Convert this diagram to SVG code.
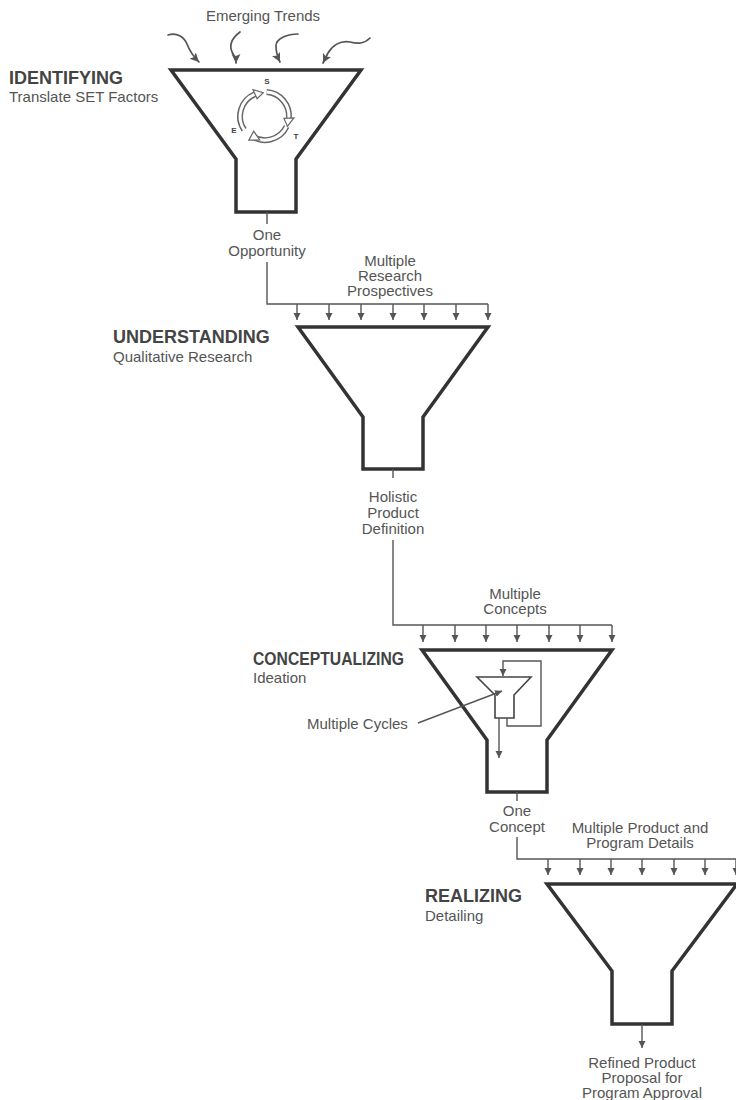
<svg xmlns="http://www.w3.org/2000/svg" width="736" height="1100" viewBox="0 0 736 1100">
  <defs>
    <style>
      .funnel { fill: none; stroke: #333; stroke-width: 3.5; stroke-linejoin: miter; }
      .conn { fill: none; stroke: #555; stroke-width: 1.4; }
      .trend { fill: none; stroke: #555; stroke-width: 1.7; stroke-linecap: round; }
      .head { font-family: "Liberation Sans", Arial, sans-serif; font-weight: bold; font-size: 18px; fill: #444; }
      .sub { font-family: "Liberation Sans", Arial, sans-serif; font-size: 15px; fill: #555; }
      .lbl { font-family: "Liberation Sans", Arial, sans-serif; font-size: 15px; fill: #555; text-anchor: middle; }
      .set { font-family: "Liberation Sans", Arial, sans-serif; font-weight: bold; font-size: 8px; fill: #444; text-anchor: middle; }
      .band-out { fill: none; stroke: #666; stroke-width: 6; }
      .band-in { fill: none; stroke: #fff; stroke-width: 3; }
      .tip { fill: #fff; stroke: #666; stroke-width: 1.2; stroke-linejoin: miter; }
    </style>
    <marker id="ah" markerWidth="8" markerHeight="8" refX="7" refY="3.5" orient="auto" markerUnits="userSpaceOnUse">
      <path d="M0,0 L7,3.5 L0,7 Z" fill="#555"/>
    </marker>
    <marker id="ahBig" markerWidth="10" markerHeight="10" refX="9" refY="4.5" orient="auto" markerUnits="userSpaceOnUse">
      <path d="M0,0 L9,4.5 L0,9 L2,4.5 Z" fill="#555"/>
    </marker>
  </defs>

  <rect width="736" height="1100" fill="#fff"/>

  <!-- Stage 1: Identifying -->
  <g id="identifying">
    <text class="lbl" x="263" y="21">Emerging Trends</text>
    <path class="trend" d="M168,35 C177,32 184,37 187,44 C190,52 194,57 199,62" marker-end="url(#ahBig)"/>
    <path class="trend" d="M240,32 C232,38 229,45 232,52 C235,57 236,60 236,63" marker-end="url(#ahBig)"/>
    <path class="trend" d="M298,34 C288,34 276,38 276,46 C276,53 278,58 280,62" marker-end="url(#ahBig)"/>
    <path class="trend" d="M370,38 C364,44 358,44 350,42 C340,40 332,46 328,53 L323,63" marker-end="url(#ahBig)"/>
    <text class="head" x="9" y="84">IDENTIFYING</text>
    <text class="sub" x="9" y="102">Translate SET Factors</text>
    <polygon class="funnel" points="171,70 361,70 296,159 296,212 236,212 236,159"/>
    <!-- S-E-T rotation -->
    <g id="set-cycle">
      <path class="band-out" d="M244.2,129.8 A24,24 0 0 1 254.9,94.2"/>
      <path class="band-in" d="M244.2,129.8 A24,24 0 0 1 254.9,94.2"/>
      <path class="band-out" d="M266.7,92.1 A24,24 0 0 1 288.9,118.1"/>
      <path class="band-in" d="M266.7,92.1 A24,24 0 0 1 288.9,118.1"/>
      <path class="band-out" d="M286.6,126.5 A24,24 0 0 1 251.2,135.7"/>
      <path class="band-in" d="M286.6,126.5 A24,24 0 0 1 251.2,135.7"/>
      <polygon class="tip" points="253,89.7 257.1,98.8 263.3,92.7"/>
      <polygon class="tip" points="283.9,118.4 293.9,117.9 287.5,126.4"/>
      <polygon class="tip" points="253.7,131.2 248.8,140.1 259.7,140.0"/>
      <text class="set" x="267" y="84">S</text>
      <text class="set" x="234" y="133">E</text>
      <text class="set" x="296" y="139">T</text>
    </g>
  </g>

  <!-- Stage 2: Understanding -->
  <g id="understanding">
    <text class="head" x="113" y="343">UNDERSTANDING</text>
    <text class="sub" x="113" y="362">Qualitative Research</text>
    <polygon class="funnel" points="298,327 488,327 423,417 423,469 363,469 363,417"/>
  </g>

  <!-- Stage 3: Conceptualizing -->
  <g id="conceptualizing">
    <text class="head" x="253" y="665" textLength="151" lengthAdjust="spacingAndGlyphs">CONCEPTUALIZING</text>
    <text class="sub" x="253" y="683">Ideation</text>
    <polygon class="funnel" points="422,650 612,650 547,740 547,792 487,792 487,740"/>
    <g id="inner-cycle">
      <polygon fill="none" stroke="#444" stroke-width="1.6" points="477,677 531,677 514,695 514,718 495,718 495,695"/>
      <path class="conn" d="M507,718 V726 H541 V661 H503 V676" marker-end="url(#ah)"/>
      <path class="conn" d="M499,718 V758" marker-end="url(#ah)"/>
    </g>
    <text class="sub" x="307" y="729">Multiple Cycles</text>
    <path class="conn" d="M418,723 L502,691" marker-end="url(#ah)"/>
  </g>

  <!-- Stage 4: Realizing -->
  <g id="realizing">
    <text class="head" x="425" y="902">REALIZING</text>
    <text class="sub" x="425" y="921">Detailing</text>
    <polygon class="funnel" points="547,884 737,884 672,971 672,1024 612,1024 612,971"/>
  </g>

  <!-- Connectors between stages -->
  <g id="connectors">
    <!-- opportunity into research -->
    <path class="conn" d="M267,212 V224"/>
    <text class="lbl" x="267" y="240">One</text>
    <text class="lbl" x="267" y="256">Opportunity</text>
    <text class="lbl" x="390" y="266">Multiple</text>
    <text class="lbl" x="390" y="281">Research</text>
    <text class="lbl" x="390" y="296">Prospectives</text>
    <path class="conn" d="M267,262 V304 H488"/>
    <g id="research-inputs">
      <path class="conn" d="M297,304 V320" marker-end="url(#ah)"/>
      <path class="conn" d="M329,304 V320" marker-end="url(#ah)"/>
      <path class="conn" d="M361,304 V320" marker-end="url(#ah)"/>
      <path class="conn" d="M393,304 V320" marker-end="url(#ah)"/>
      <path class="conn" d="M424,304 V320" marker-end="url(#ah)"/>
      <path class="conn" d="M456,304 V320" marker-end="url(#ah)"/>
      <path class="conn" d="M488,304 V320" marker-end="url(#ah)"/>
    </g>

    <!-- definition into concepts -->
    <path class="conn" d="M393,469 V478"/>
    <text class="lbl" x="393" y="502">Holistic</text>
    <text class="lbl" x="393" y="518">Product</text>
    <text class="lbl" x="393" y="534">Definition</text>
    <text class="lbl" x="515" y="599">Multiple</text>
    <text class="lbl" x="515" y="614">Concepts</text>
    <path class="conn" d="M393,540 V625 H612"/>
    <g id="concept-inputs">
      <path class="conn" d="M423,625 V642" marker-end="url(#ah)"/>
      <path class="conn" d="M455,625 V642" marker-end="url(#ah)"/>
      <path class="conn" d="M486,625 V642" marker-end="url(#ah)"/>
      <path class="conn" d="M517,625 V642" marker-end="url(#ah)"/>
      <path class="conn" d="M549,625 V642" marker-end="url(#ah)"/>
      <path class="conn" d="M580,625 V642" marker-end="url(#ah)"/>
      <path class="conn" d="M612,625 V642" marker-end="url(#ah)"/>
    </g>

    <!-- concept into detailing -->
    <path class="conn" d="M517,792 V801"/>
    <text class="lbl" x="517" y="816">One</text>
    <text class="lbl" x="517" y="832">Concept</text>
    <text class="lbl" x="640" y="833">Multiple Product and</text>
    <text class="lbl" x="640" y="848">Program Details</text>
    <path class="conn" d="M517,837 V859 H740"/>
    <g id="detail-inputs">
      <path class="conn" d="M548,859 V875" marker-end="url(#ah)"/>
      <path class="conn" d="M580,859 V875" marker-end="url(#ah)"/>
      <path class="conn" d="M611,859 V875" marker-end="url(#ah)"/>
      <path class="conn" d="M642,859 V875" marker-end="url(#ah)"/>
      <path class="conn" d="M674,859 V875" marker-end="url(#ah)"/>
      <path class="conn" d="M705,859 V875" marker-end="url(#ah)"/>
      <path class="conn" d="M736,859 V875" marker-end="url(#ah)"/>
    </g>

    <!-- final output -->
    <path class="conn" d="M642,1024 V1048" marker-end="url(#ah)"/>
    <text class="lbl" x="642" y="1068">Refined Product</text>
    <text class="lbl" x="642" y="1083">Proposal for</text>
    <text class="lbl" x="642" y="1098">Program Approval</text>
  </g>
</svg>
